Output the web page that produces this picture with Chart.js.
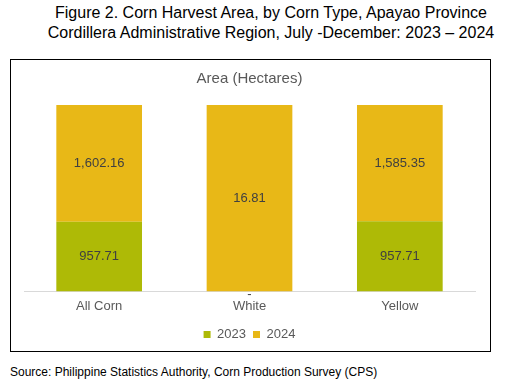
<!DOCTYPE html>
<html>
<head>
<meta charset="utf-8">
<script src="https://cdn.jsdelivr.net/npm/chart.js@4"></script>
<style>
  html, body { margin:0; padding:0; background:#fff; }
  body { width:509px; height:384px; position:relative; overflow:hidden; font-family:"Liberation Sans", Arial, sans-serif; }
  #title { position:absolute; left:0; top:3px; width:542px; text-align:center; font-size:16px; line-height:20px; color:#000; }
  #frame { position:absolute; left:10px; top:59px; width:479px; height:291px; border:1px solid #000; }
  #source { position:absolute; left:10px; top:365px; font-size:12px; color:#000; }
</style>
</head>
<body>
<div id="title">Figure 2. Corn Harvest Area, by Corn Type, Apayao Province<br>Cordillera Administrative Region, July -December: 2023 – 2024</div>
<div id="frame"><canvas id="c" width="479" height="291"></canvas></div>
<div id="source">Source: Philippine Statistics Authority, Corn Production Survey (CPS)</div>
<script>
const categories = ["All Corn", "White", "Yellow"];
const seriesNames = ["2023", "2024"];
const values2023 = [957.71, 0, 957.71];
const values2024 = [1602.16, 16.81, 1585.35];
const colors = ["#AEBA06", "#E8B817"];

const totals = categories.map((_, i) => values2023[i] + values2024[i]);
const pct = arr => arr.map((v, i) => totals[i] ? v / totals[i] * 100 : 0);

const labelPlugin = {
  id: 'valLabels',
  afterDatasetsDraw(chart) {
    const ctx = chart.ctx;
    ctx.save();
    ctx.font = '13px "Liberation Sans", Arial, sans-serif';
    ctx.fillStyle = '#404040';
    ctx.textAlign = 'center';
    ctx.textBaseline = 'middle';
    chart.data.datasets.forEach((ds, di) => {
      const meta = chart.getDatasetMeta(di);
      meta.data.forEach((bar, i) => {
        const raw = ds.raw[i];
        if (raw === 0) {
          ctx.fillText('-', bar.x, bar.base + 3);
        } else {
          const txt = raw.toLocaleString('en-US', {minimumFractionDigits:2, maximumFractionDigits:2});
          ctx.fillText(txt, bar.x, (bar.y + bar.base) / 2);
        }
      });
    });
    ctx.restore();
  }
};

new Chart(document.getElementById('c'), {
  type: 'bar',
  data: {
    labels: categories,
    datasets: [
      { label: seriesNames[0], data: pct(values2023), raw: values2023, backgroundColor: colors[0], barPercentage: 0.57, categoryPercentage: 1 },
      { label: seriesNames[1], data: pct(values2024), raw: values2024, backgroundColor: colors[1], barPercentage: 0.57, categoryPercentage: 1 }
    ]
  },
  options: {
    responsive: false,
    animation: false,
    layout: { padding: { left: 13, right: 15, top: 0, bottom: 0 } },
    scales: {
      x: {
        stacked: true,
        grid: { display: false, drawTicks: false },
        border: { display: true, color: '#D9D9D9', width: 1 },
        ticks: { color: '#595959', font: { size: 13, family: '"Liberation Sans", Arial, sans-serif' }, padding: 7 }
      },
      y: { stacked: true, display: false, min: 0, max: 100 }
    },
    plugins: {
      title: {
        display: true, text: 'Area (Hectares)', color: '#595959',
        font: { size: 15, weight: 'normal', family: '"Liberation Sans", Arial, sans-serif' },
        padding: { top: 10, bottom: 17 }
      },
      legend: {
        position: 'bottom',
        labels: { boxWidth: 7, boxHeight: 7, color: '#595959', padding: 7,
          font: { size: 13, family: '"Liberation Sans", Arial, sans-serif' } }
      },
      tooltip: { enabled: false }
    }
  },
  plugins: [labelPlugin]
});
</script>
</body>
</html>
